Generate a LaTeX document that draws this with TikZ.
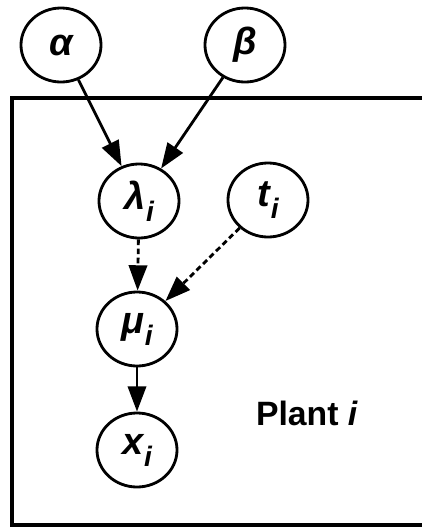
\documentclass[tikz,border=0pt]{standalone}
\usepackage{fontspec}
\setmainfont{Liberation Sans}
\usepackage{tikz}
\usetikzlibrary{shapes.geometric, arrows.meta, positioning}

\newcommand{\vsub}[2]{#1\kern0.5pt\raisebox{-0.6ex}{\fontsize{20}{22}\selectfont #2}}

\begin{document}
\begin{tikzpicture}[
  x=0.025cm, y=-0.025cm,
  every node/.style={font=\fontsize{27}{30}\selectfont\bfseries\itshape},
  var/.style={ellipse, draw, line width=2pt, minimum width=2cm,
              minimum height=1.85cm, inner sep=0pt},
  arrow/.style={-{Triangle[length=18pt, width=13pt]}, line width=2pt},
  dasharrow/.style={arrow, dash pattern=on 4pt off 2.5pt},
  plate/.style={draw, line width=2.3pt}
]
\clip (0,0) rectangle (422,528);

%--- Plate ---%
\draw[plate] (12,98) rectangle (440,525);
\node[font=\fontsize{24}{28}\selectfont\bfseries] (plant) at (307,413)
  {Plant \textit{i}};

%--- Hyperparameters ---%
\node[var] (alpha) at (61,45)  {α};
\node[var] (beta)  at (245,45) {β};

%--- Plant-level variables ---%
\node[var] (lambda) at (139,201) {\vsub{λ}{i}};
\node[var] (t)      at (268,200) {\vsub{t}{i}};
\node[var] (mu)     at (137,329) {\vsub{μ}{i}};
\node[var] (x)      at (137,450) {\vsub{x}{i}};

%--- Arrows ---%
\draw[arrow]     (alpha)  -- (lambda);
\draw[arrow]     (beta)   -- (lambda);
\draw[dasharrow] (lambda) -- (mu);
\draw[dasharrow] (t)      -- (mu);
\draw[arrow]     (mu)     -- (x);

\end{tikzpicture}
\end{document}
